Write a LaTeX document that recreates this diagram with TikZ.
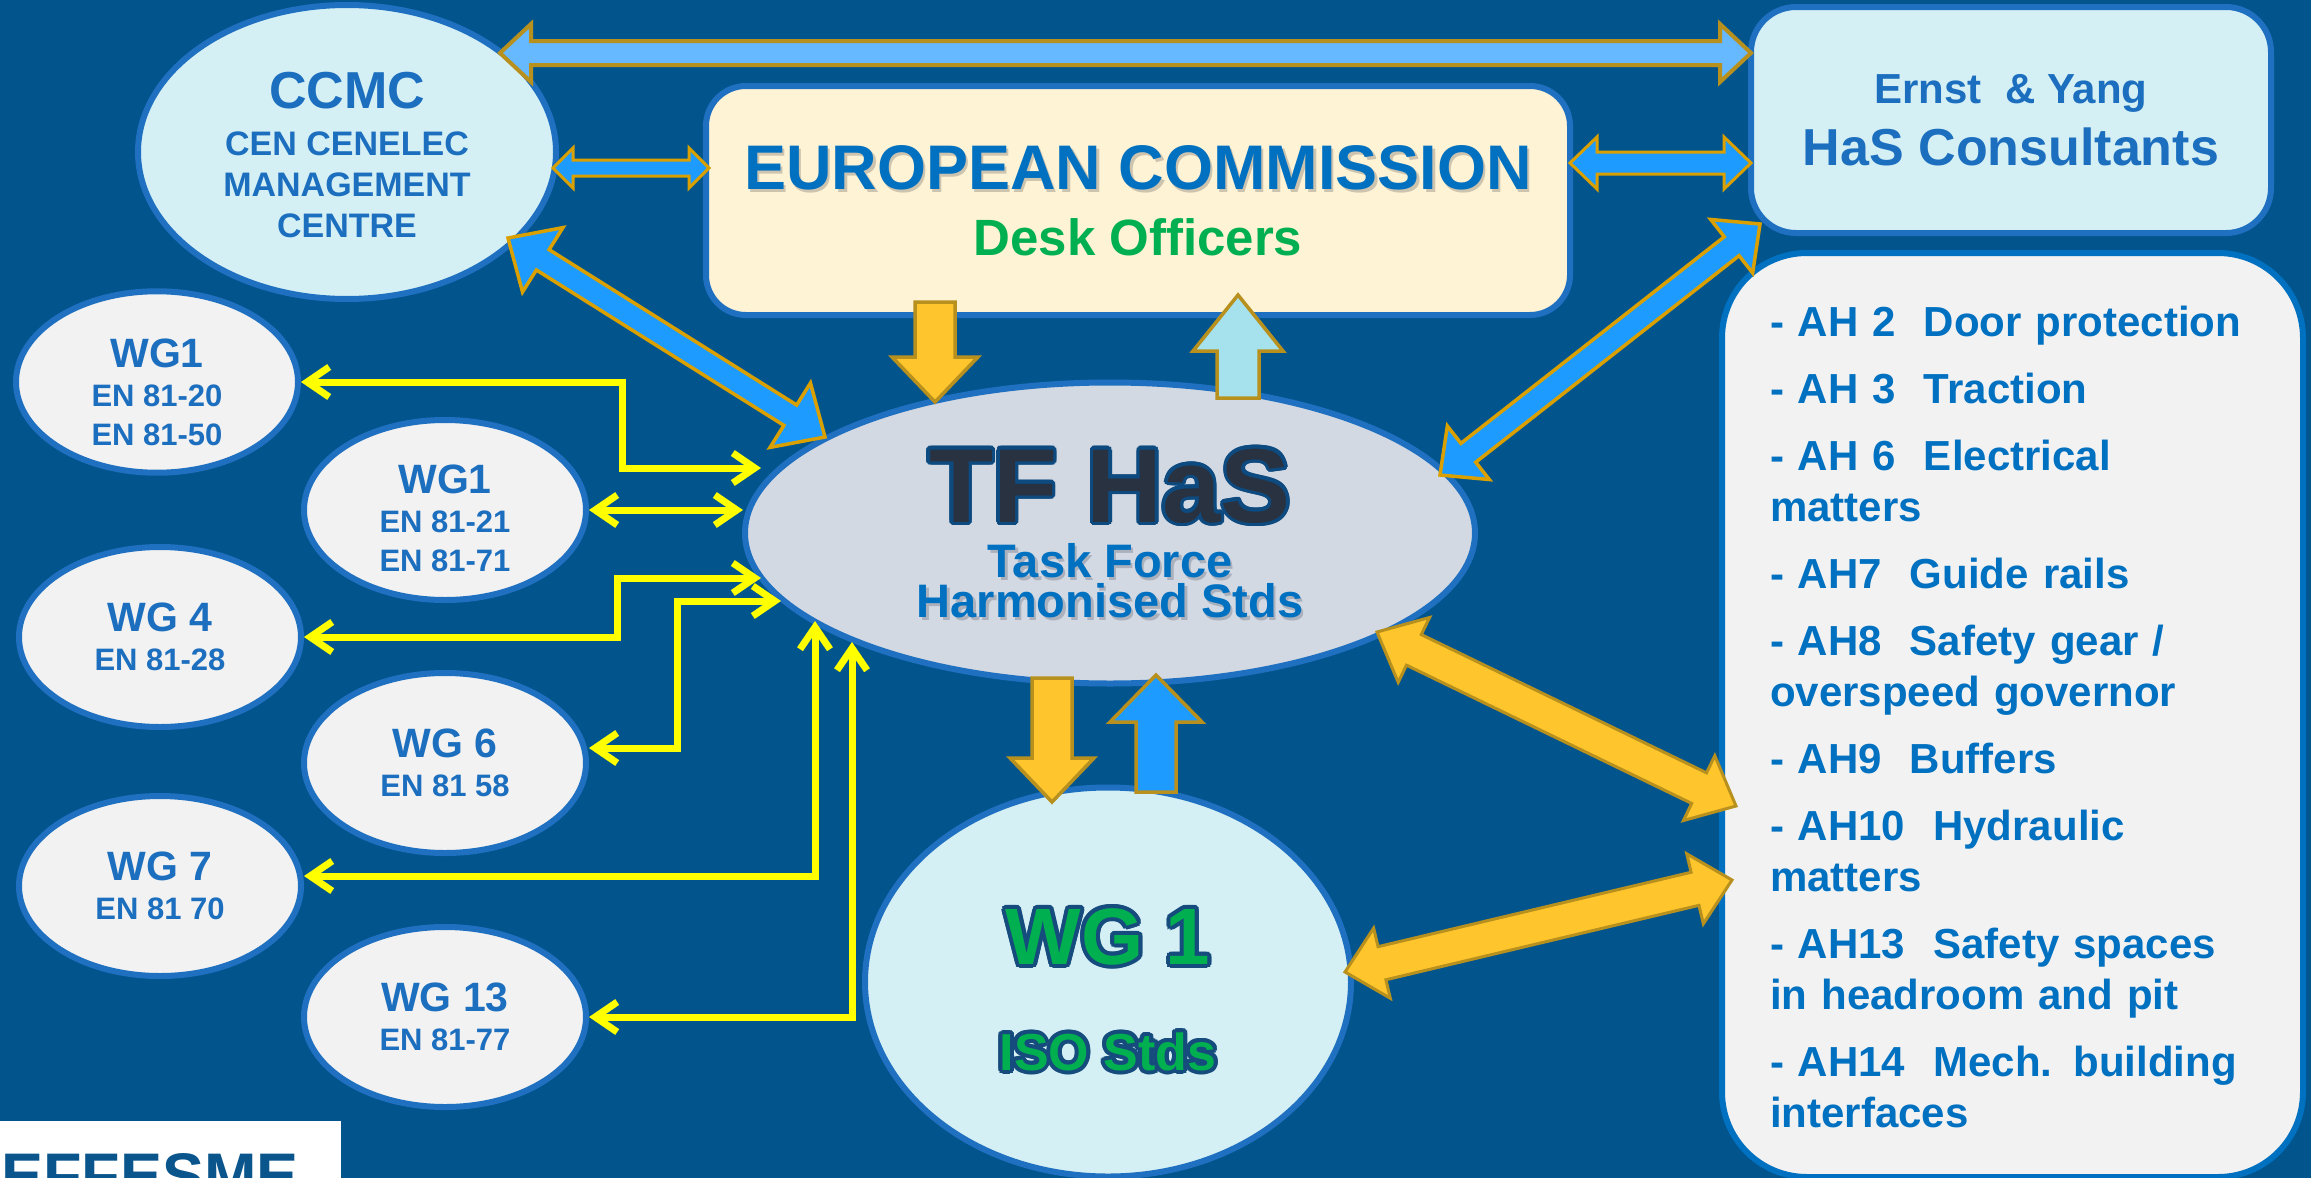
\documentclass[tikz,border=0pt]{standalone}
\usepackage{fontspec}
\setmainfont{Liberation Sans}
\usetikzlibrary{shapes.geometric,arrows.meta,calc}
\definecolor{bgblue}{RGB}{2,85,140}
\definecolor{edgeblue}{RGB}{31,112,192}
\definecolor{txtblue}{RGB}{0,112,192}
\definecolor{wgtxt}{RGB}{28,110,190}
\definecolor{palecyan}{RGB}{213,240,245}
\definecolor{cream}{RGB}{255,243,214}
\definecolor{wgfill}{RGB}{242,242,242}
\definecolor{tffill}{RGB}{211,217,227}
\definecolor{dgreen}{RGB}{0,176,80}
\definecolor{wgnavy}{RGB}{22,75,125}
\definecolor{tfdark}{RGB}{40,50,65}
\definecolor{tfedge}{RGB}{13,74,128}
\definecolor{ylw}{RGB}{255,255,0}
\definecolor{goldA}{RGB}{184,144,30}
\definecolor{goldB}{RGB}{218,160,0}
\definecolor{amber}{RGB}{255,197,45}
\definecolor{brightblue}{RGB}{30,155,255}
\definecolor{skyblue}{RGB}{102,184,255}
\definecolor{iceblue}{RGB}{166,225,238}
\definecolor{logoblue}{RGB}{10,85,140}
\definecolor{ecshadow}{RGB}{205,196,175}
\definecolor{tfshadow}{RGB}{170,176,188}

% outlined text: #1 outline colour, #2 radius, #3 fill colour, #4 text
\newcommand\outlinetext[4]{%
  \begingroup
  \foreach \oang in {0,22.5,...,337.5}{%
    \pgfmathsetmacro\odx{#2*cos(\oang)}%
    \pgfmathsetmacro\ody{#2*sin(\oang)}%
    \rlap{\kern\odx pt\raisebox{\ody pt}{\textcolor{#1}{#4}}}}%
  \textcolor{#3}{#4}%
  \endgroup}
% text with a small drop shadow: #1 shadow colour, #2 text colour, #3 text
\newcommand\shadowtext[3]{%
  \rlap{\kern2.5pt\raisebox{-3pt}{\textcolor{#1}{#3}}}\textcolor{#2}{#3}}
\newcommand\wgbig[1]{{\fontsize{41}{39}\selectfont #1}}

% single block arrow: #1 style, #2 tail, #3 tip, #4 shaft half width, #5 head half width, #6 head length
\newcommand\blockarrow[6]{%
  \coordinate (ba-c) at ($(#3)!#6pt!(#2)$);
  \draw[#1] ($(#2)!#4pt!90:(#3)$) -- ($(ba-c)!#4pt!90:(#3)$) -- ($(ba-c)!#5pt!90:(#3)$)
    -- (#3) -- ($(ba-c)!#5pt!-90:(#3)$) -- ($(ba-c)!#4pt!-90:(#3)$) -- ($(#2)!#4pt!-90:(#3)$) -- cycle;}
% double block arrow
\newcommand\dblblockarrow[6]{%
  \coordinate (da-a) at ($(#2)!#6pt!(#3)$);
  \coordinate (da-b) at ($(#3)!#6pt!(#2)$);
  \draw[#1] (#2) -- ($(da-a)!#5pt!90:(#3)$) -- ($(da-a)!#4pt!90:(#3)$) -- ($(da-b)!#4pt!90:(#3)$)
    -- ($(da-b)!#5pt!90:(#3)$) -- (#3) -- ($(da-b)!#5pt!-90:(#3)$) -- ($(da-b)!#4pt!-90:(#3)$)
    -- ($(da-a)!#4pt!-90:(#3)$) -- ($(da-a)!#5pt!-90:(#3)$) -- cycle;}

\begin{document}
\begin{tikzpicture}[x=1pt,y=-1pt,
  ellnode/.style={ellipse, draw=edgeblue, line width=6pt, inner sep=0pt, align=center},
  wgnode/.style={ellnode, fill=wgfill, minimum width=282pt, minimum height=180pt, text=wgtxt,
     font=\bfseries\fontsize{31}{39}\selectfont},
  roundbox/.style={rectangle, draw=edgeblue, line width=6pt, inner sep=0pt, align=center},
  ylink/.style={draw=ylw, line width=7pt, line cap=round, line join=miter,
     >={Straight Barb[length=22pt,width=30pt]}, <->},
  bluegold/.style={fill=brightblue, draw=goldB, line width=3.5pt, line join=miter},
  ambergold/.style={fill=amber, draw=goldA, line width=3.5pt, line join=miter}
]
\useasboundingbox (0,0) rectangle (2311,1178);
\fill[bgblue] (0,0) rectangle (2311,1178);

% ---- nodes
\node[ellnode, fill=palecyan, minimum width=418pt, minimum height=294pt, text=wgtxt,
      font=\bfseries\fontsize{34}{41}\selectfont] (ccmc) at (347,152)
  {\rule{0pt}{42pt}{\fontsize{52}{52}\selectfont CCMC}\\[6pt]CEN CENELEC\\MANAGEMENT\\CENTRE};

\node[roundbox, rounded corners=40pt, fill=cream, minimum width=864pt, minimum height=229pt,
      font=\bfseries\fontsize{51}{66}\selectfont] (ec) at (1138,200.5)
  {{\fontsize{63}{66}\selectfont\shadowtext{ecshadow}{txtblue}{EUROPEAN COMMISSION}}\\\textcolor{dgreen}{Desk Officers}};

\node[roundbox, rounded corners=45pt, fill=palecyan, minimum width=520pt, minimum height=226pt,
      text=wgtxt, font=\bfseries\fontsize{52}{62}\selectfont] (ey) at (2011,120)
  {{\fontsize{42}{62}\selectfont Ernst~ \& Yang}\\HaS Consultants};

\node[roundbox, rounded corners=85pt, fill=wgfill, draw=txtblue, minimum width=581pt,
      minimum height=924pt, text width=485pt, inner xsep=48pt, align=left, text=txtblue,
      font=\bfseries\fontsize{42}{51}\selectfont] (ah) at (2012.5,715)
  {\rule{0pt}{34pt}- AH 2~ Door protection\\[16pt]
   - AH 3~ Traction\\[16pt]
   - AH 6~ Electrical\\matters\\[16pt]
   - AH7~ Guide rails\\[16pt]
   - AH8~ Safety gear /\\overspeed governor\\[16pt]
   - AH9~ Buffers\\[16pt]
   - AH10~ Hydraulic\\matters\\[16pt]
   - AH13~ Safety spaces\\in headroom and pit\\[16pt]
   - AH14~ Mech. building\\interfaces};

\node[wgnode] (wga) at (157,382) {\rule{0pt}{50pt}\wgbig{WG1}\\EN 81-20\\EN 81-50};
\node[wgnode] (wgb) at (445,510) {\rule{0pt}{46pt}\wgbig{WG1}\\EN 81-21\\EN 81-71};
\node[wgnode] (wgd) at (160,637) {\wgbig{WG 4}\\EN 81-28};
\node[wgnode] (wgf) at (445,763) {\wgbig{WG 6}\\EN 81 58};
\node[wgnode] (wgg) at (160,886) {\wgbig{WG 7}\\EN 81 70};
\node[wgnode] (wgm) at (445,1017) {\wgbig{WG 13}\\EN 81-77};

\node[ellnode, fill=tffill, minimum width=730pt, minimum height=301pt, text=txtblue,
      font=\bfseries\fontsize{47}{40}\selectfont] (tf) at (1110,533)
  {\outlinetext{tfedge}{3.5}{tfdark}{\fontsize{105}{105}\selectfont TF HaS}\\[15pt]%
   \shadowtext{tfshadow}{txtblue}{Task Force}\\\shadowtext{tfshadow}{txtblue}{Harmonised Stds}};

\node[ellnode, fill=palecyan, minimum width=486pt, minimum height=389pt,
      font=\bfseries\fontsize{52}{106}\selectfont] (iso) at (1108,982)
  {\rule{0pt}{75pt}\outlinetext{wgnavy}{4}{dgreen}{\fontsize{80}{80}\selectfont WG 1}\\\outlinetext{wgnavy}{4}{dgreen}{ISO Stds}};

% ---- logo
\begin{scope}
  \clip (0,1121) rectangle (341,1178);
  \node[fill=white, minimum width=341pt, minimum height=57pt, inner sep=0pt, anchor=north west] (logobox) at (0,1121) {};
  \node[anchor=base west, inner sep=0pt, text=logoblue, font=\bfseries\fontsize{63}{63}\selectfont] (logo) at (1,1197) {EFFESME};
\end{scope}

% ---- yellow connectors
\coordinate (ya) at (761,468);
\coordinate (yb) at (743,510);
\coordinate (yc) at (761,578);
\coordinate (yd) at (781,601);
\coordinate (ye) at (815,621);
\coordinate (yf) at (852,642);
\draw[ylink] (wga.east) -- (622,382) |- (ya);
\draw[ylink] (wgb.east) -- (yb);
\draw[ylink] (wgd.east) -- (617,637) |- (yc);
\draw[ylink] (wgf.east |- 0,748) -- (677,748) |- (yd);
\draw[ylink] (wgg.east |- 0,876) -| (ye);
\draw[ylink] (wgm.east) -| (yf);

% ---- block arrows
\coordinate (topL) at (500,53);   \coordinate (topR) at (1751,53);
\coordinate (ceL) at (553,168);   \coordinate (ceR) at (709,168);
\coordinate (eeL) at (1570,163);  \coordinate (eeR) at (1751,163);
\coordinate (ctA) at (508,238);   \coordinate (ctB) at (825,437);
\coordinate (etA) at (1760,224);  \coordinate (etB) at (1440,475);
\coordinate (ecD1) at (935,302);  \coordinate (ecD2) at (935,402);
\coordinate (ecU1) at (1238,398); \coordinate (ecU2) at (1238,295);
\coordinate (wD1) at (1052,678);  \coordinate (wD2) at (1052,802);
\coordinate (wU1) at (1156,792);  \coordinate (wU2) at (1156,675);
\coordinate (tlA) at (1377,632);  \coordinate (tlB) at (1736,806);
\coordinate (wlA) at (1345,972);  \coordinate (wlB) at (1732,880);

\dblblockarrow{fill=skyblue, draw=goldA, line width=4pt, line join=miter}{topL}{topR}{12}{29}{31}
\dblblockarrow{bluegold, line width=3pt}{ceL}{ceR}{8}{20}{20}
\dblblockarrow{bluegold, line width=3pt}{eeL}{eeR}{11}{26}{27}
\dblblockarrow{bluegold}{ctA}{ctB}{12}{38}{41}
\dblblockarrow{bluegold}{etA}{etB}{12}{34}{36}
\blockarrow{ambergold}{ecD1}{ecD2}{20}{43}{45}
\blockarrow{fill=iceblue, draw=goldA, line width=3.5pt, line join=miter}{ecU1}{ecU2}{21}{45}{56}
\blockarrow{ambergold}{wD1}{wD2}{20}{42}{44}
\blockarrow{fill=brightblue, draw=goldA, line width=3.5pt, line join=miter}{wU1}{wU2}{20}{46}{47}
\dblblockarrow{ambergold, line width=3pt}{tlA}{tlB}{17}{36}{41}
\dblblockarrow{ambergold, line width=3pt}{wlA}{wlB}{17}{36}{38}
\end{tikzpicture}
\end{document}
